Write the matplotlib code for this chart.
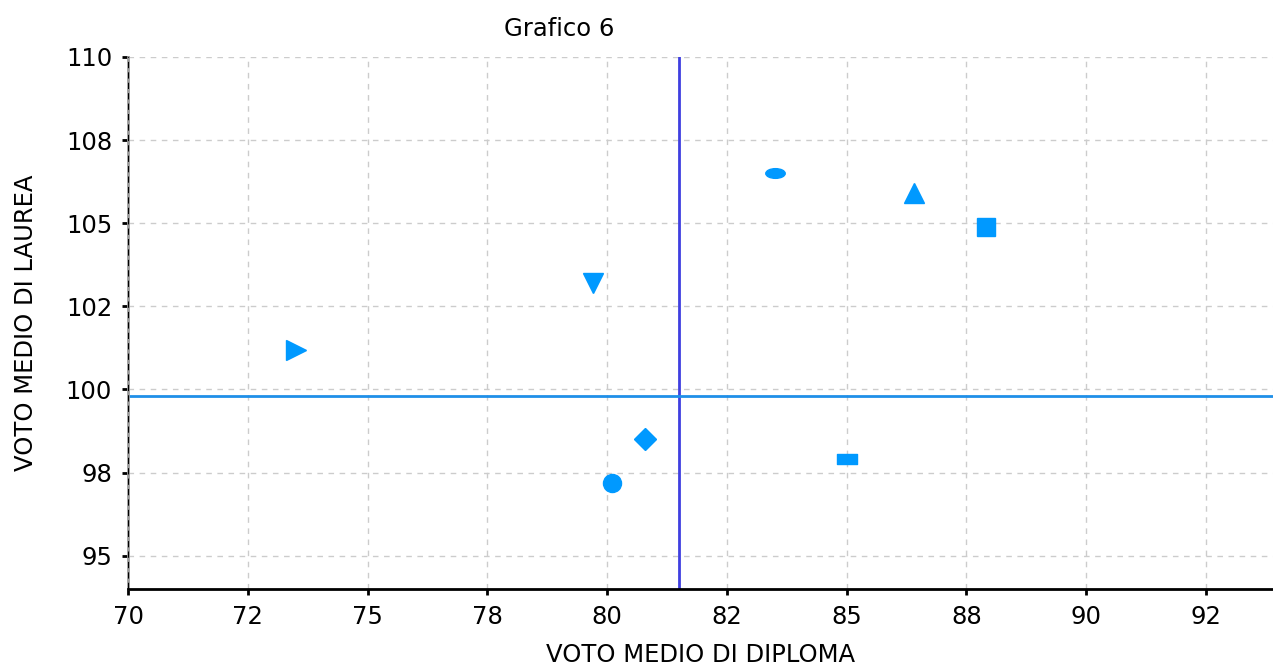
import numpy as np
import matplotlib.pyplot as plt
from matplotlib.path import Path
from matplotlib.ticker import FuncFormatter, MultipleLocator

# voto medio di diploma / laurea per gruppo
voto_diploma = [73.5, 79.7, 83.5, 86.4, 87.9, 80.8, 80.1, 85.0]
voto_laurea = [101.2, 103.2, 106.5, 105.9, 104.9, 98.5, 97.2, 97.9]
markers = ["tri_right", "tri_down", "ellipse", "tri_up", "square", "diamond", "circle", "rect"]
media_diploma = 81.5
media_laurea = 99.8

# marker shapes
ellipse = Path.unit_circle().transformed(plt.matplotlib.transforms.Affine2D().scale(1, 0.5))
rect = Path([(-1, -0.55), (1, -0.55), (1, 0.55), (-1, 0.55), (-1, -0.55)],
            [Path.MOVETO, Path.LINETO, Path.LINETO, Path.LINETO, Path.CLOSEPOLY])
shape = {
    "tri_right": (">", 14),
    "tri_down": ("v", 14),
    "tri_up": ("^", 14),
    "square": ("s", 13),
    "diamond": ("D", 11.5),
    "circle": ("o", 13),
    "ellipse": (ellipse, 14),
    "rect": (rect, 14),
}

fig = plt.figure(figsize=(12.73, 6.69), dpi=100)
ax = fig.add_axes([0.1006, 0.1196, 0.8994, 0.7952])

for x, y, m in zip(voto_diploma, voto_laurea, markers):
    mk, ms = shape[m]
    ax.plot(x, y, marker=mk, markersize=ms, color="#0099ff", linestyle="none", zorder=3)

ax.axvline(media_diploma, color="#3f3fe0", linewidth=2, zorder=2)
ax.axhline(media_laurea, color="#1f8fe8", linewidth=2, zorder=2)
ax.axvline(70, color="black", linestyle=(0, (3, 2)), linewidth=1.5, zorder=4)

ax.set_xlim(70, 93.9)
ax.set_ylim(94, 110)
ax.xaxis.set_major_locator(MultipleLocator(2.5))
fmt = FuncFormatter(lambda v, p: "{:.0f}".format(v))
ax.xaxis.set_major_formatter(fmt)
ax.yaxis.set_major_formatter(fmt)
ax.set_yticks([95, 97.5, 100, 102.5, 105, 107.5, 110])

ax.grid(True, color="#cccccc", linestyle=(0, (4, 4)), linewidth=1)
ax.set_axisbelow(True)
for s in ["top", "right"]:
    ax.spines[s].set_visible(False)
ax.spines["left"].set_color("#999999")
ax.spines["left"].set_linewidth(2)
ax.spines["bottom"].set_linewidth(2)
ax.tick_params(axis="both", labelsize=17.5, length=4.5, width=2, pad=7, colors="black")

ax.set_xlabel("VOTO MEDIO DI DIPLOMA", fontsize=17.5, labelpad=10)
ax.set_ylabel("VOTO MEDIO DI LAUREA", fontsize=17.5, labelpad=20)
fig.text(0.439, 0.957, "Grafico 6", fontsize=17.5, ha="center", va="center")

plt.savefig("out.png", dpi=100)
